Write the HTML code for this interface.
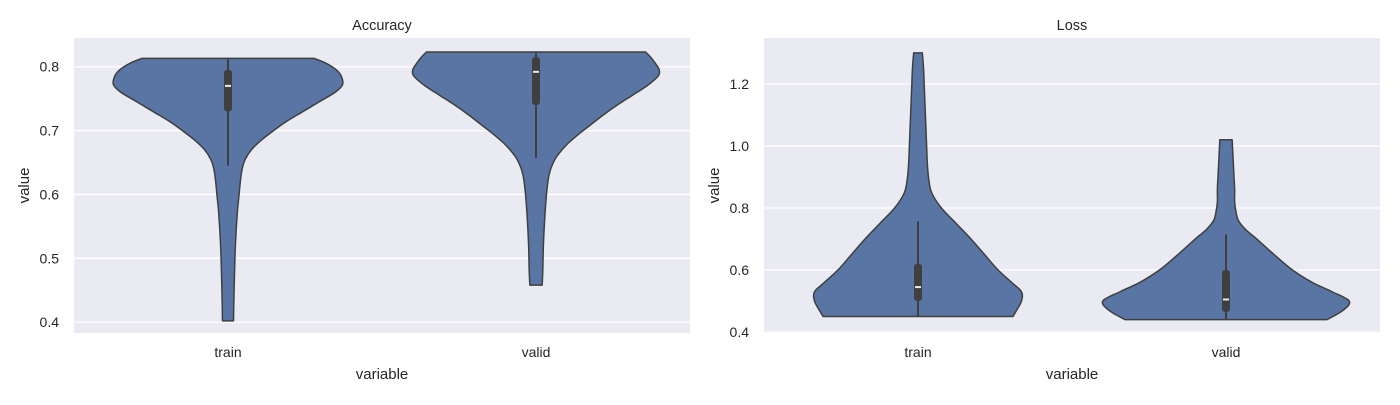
<!DOCTYPE html>
<html><head><meta charset="utf-8"><style>
body{margin:0;background:#fff;}
svg text{font-family:"Liberation Sans",sans-serif;fill:#262626;}
</style></head><body>
<svg id="chart" width="1400" height="400" xmlns="http://www.w3.org/2000/svg"></svg>
<script>
const categories = ["train","valid"];
// Accuracy violins: values (y) and relative half-width
const accTrainVals = [0.813,0.805,0.795,0.785,0.772,0.76,0.745,0.73,0.715,0.70,0.685,0.67,0.655,0.64,0.62,0.60,0.57,0.52,0.47,0.43,0.402];
const accTrainDens = [0.70,0.80,0.88,0.92,0.93,0.87,0.74,0.61,0.48,0.37,0.27,0.19,0.14,0.115,0.10,0.09,0.075,0.06,0.052,0.047,0.045];
const accValidVals = [0.823,0.815,0.805,0.795,0.785,0.77,0.755,0.74,0.725,0.71,0.695,0.68,0.665,0.65,0.63,0.60,0.56,0.52,0.48,0.458];
const accValidDens = [0.89,0.93,0.97,1.0,0.99,0.90,0.78,0.66,0.55,0.45,0.35,0.26,0.19,0.14,0.105,0.085,0.07,0.06,0.055,0.05];
const accBoxTrain = [0.645,0.73,0.77,0.795,0.813];
const accBoxValid = [0.657,0.74,0.792,0.815,0.823];
// Loss violins
const lossTrainVals = [1.30,1.25,1.20,1.15,1.10,1.05,1.00,0.95,0.90,0.85,0.80,0.75,0.70,0.65,0.60,0.56,0.53,0.50,0.47,0.45];
const lossTrainDens = [0.035,0.045,0.05,0.055,0.06,0.065,0.07,0.075,0.085,0.11,0.19,0.31,0.43,0.54,0.65,0.76,0.84,0.84,0.80,0.77];
const lossValidVals = [1.02,0.98,0.94,0.90,0.86,0.82,0.79,0.76,0.73,0.70,0.65,0.60,0.56,0.53,0.50,0.47,0.44];
const lossValidDens = [0.05,0.055,0.06,0.065,0.07,0.07,0.08,0.10,0.16,0.25,0.39,0.54,0.70,0.86,1.0,0.95,0.82];
const lossBoxTrain = [0.45,0.50,0.545,0.62,0.757];
const lossBoxValid = [0.44,0.465,0.505,0.60,0.715];
const accTicks = [0.4,0.5,0.6,0.7,0.8];
const lossTicks = [0.4,0.6,0.8,1.0,1.2];

const NS="http://www.w3.org/2000/svg";
const svg=document.getElementById('chart');
function mk(tag,attrs,parent){const e=document.createElementNS(NS,tag);for(const k in attrs)e.setAttribute(k,attrs[k]);(parent||svg).appendChild(e);return e;}

function panel(name,x0,x1,y0,y1,dmin,dmax,ticks,title,violins){
  const g=mk('g',{});
  
  
  const ys=v=>y1-(v-dmin)/(dmax-dmin)*(y1-y0);
  const band=(x1-x0)/categories.length;
  const xs=i=>x0+band*(i+0.5);
  const maxHW=band*0.4;
  const bg=mk('rect',{x:x0,y:y0,width:x1-x0,height:y1-y0,fill:'#eaeaf2'},g);
  
  
  ticks.forEach(t=>{
    const l=mk('line',{x1:x0,x2:x1,y1:ys(t),y2:ys(t),stroke:'#fff','stroke-width':1.3},g);
    
    
    const tx=mk('text',{x:x0-15,y:ys(t)+5,'text-anchor':'end','font-size':14},g);
    tx.textContent=t.toFixed(1);
    
    
  });
  categories.forEach((c,i)=>{
    const tx=mk('text',{x:xs(i),y:y1+24,'text-anchor':'middle','font-size':14},g);
    tx.textContent=c;
    
    
  });
  violins.forEach((vd,i)=>{
    const [vals,dens,box]=vd;const cx=xs(i);
    const R=vals.map((v,k)=>[cx+dens[k]*maxHW,ys(v)]);
    const L=vals.map((v,k)=>[cx-dens[k]*maxHW,ys(v)]).reverse();
    let d='M'+R[0][0]+','+R[0][1];
    function seg(a,b,c,e){return ' C'+(b[0]+(c[0]-a[0])/6)+','+(b[1]+(c[1]-a[1])/6)+' '+(c[0]-(e[0]-b[0])/6)+','+(c[1]-(e[1]-b[1])/6)+' '+c[0]+','+c[1];}
    for(let k=0;k<R.length-1;k++){const a=R[Math.max(k-1,0)],e=R[Math.min(k+2,R.length-1)];d+=seg(a,R[k],R[k+1],e);}
    d+=' L'+L[0][0]+','+L[0][1];
    for(let k=0;k<L.length-1;k++){const a=L[Math.max(k-1,0)],e=L[Math.min(k+2,L.length-1)];d+=seg(a,L[k],L[k+1],e);}
    d+='Z';
    const p=mk('path',{d:d,fill:'#5875a4',stroke:'#3f3f3f','stroke-width':1.5,'stroke-linejoin':'round'},g);
    
    
    const w=mk('line',{x1:cx,x2:cx,y1:ys(box[0]),y2:ys(box[4]),stroke:'#3f3f3f','stroke-width':2},g);
    
    
    const b=mk('rect',{x:cx-4,y:ys(box[3]),width:8,height:ys(box[1])-ys(box[3]),rx:3,fill:'#3f3f3f'},g);
    
    
    const m=mk('line',{x1:cx-3,x2:cx+3,y1:ys(box[2]),y2:ys(box[2]),stroke:'#eaeaf2','stroke-width':2},g);
    
    
  });
  const t=mk('text',{x:(x0+x1)/2,y:y0-8,'text-anchor':'middle','font-size':14.5},g);
  t.textContent=title;
  
  
  const xl=mk('text',{x:(x0+x1)/2,y:y1+46,'text-anchor':'middle','font-size':15},g);
  xl.textContent='variable';
  
  
  const yl=mk('text',{x:0,y:0,'text-anchor':'middle','font-size':15,transform:'translate('+(x0-45)+','+((y0+y1)/2)+') rotate(-90)'},g);
  yl.textContent='value';
  
  
}
panel('accuracy',74,690,38,333,0.383,0.845,accTicks,'Accuracy',[[accTrainVals,accTrainDens,accBoxTrain],[accValidVals,accValidDens,accBoxValid]]);
panel('loss',764,1380,38,333,0.397,1.348,lossTicks,'Loss',[[lossTrainVals,lossTrainDens,lossBoxTrain],[lossValidVals,lossValidDens,lossBoxValid]]);
</script>
</body></html>
